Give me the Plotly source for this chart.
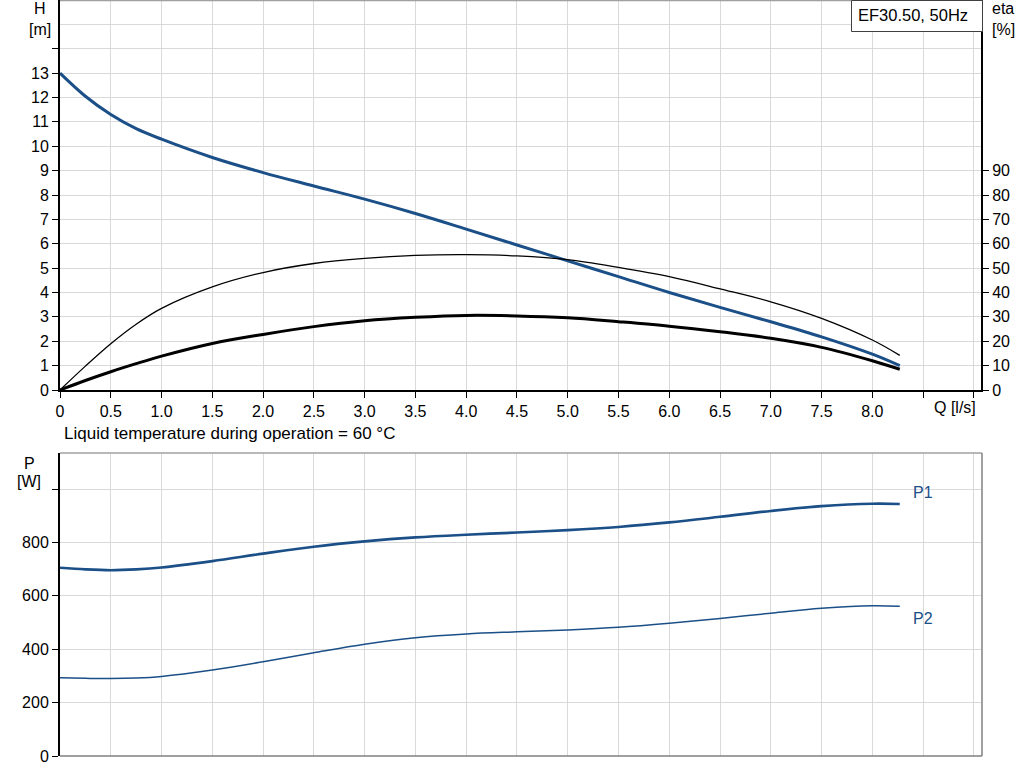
import plotly.graph_objects as go

# ---- data ----
q = [0, 0.25, 0.5, 0.75, 1.0, 1.5, 2.0, 2.5, 3.0, 3.5, 4.0, 4.5, 5.0, 5.5, 6.0, 6.5, 7.0, 7.5, 8.0, 8.27]
head = [13.0, 12.05, 11.3, 10.72, 10.29, 9.54, 8.92, 8.37, 7.83, 7.24, 6.6, 5.95, 5.3, 4.65, 4.0, 3.39, 2.8, 2.18, 1.47, 1.0]
eta_pump = [0, 9.8, 19, 27, 33.5, 42.3, 48.2, 51.9, 54, 55.2, 55.5, 55, 53.5, 50.3, 46.5, 41.5, 36.2, 29.4, 20.5, 14.2]
eta_total = [0, 3.9, 7.5, 10.8, 13.9, 19.1, 22.8, 26, 28.4, 29.8, 30.6, 30.4, 29.6, 28, 26.2, 23.9, 21.2, 17.5, 12, 8.5]
p1 = [705, 699, 696, 699, 706, 730, 758, 784, 804, 819, 829, 837, 846, 858, 875, 896, 918, 936, 945, 944]
p2 = [293, 291, 290, 292, 298, 322, 353, 387, 419, 443, 457, 465, 472, 482, 497, 515, 535, 553, 563, 561]

x_ticks = [0, 0.5, 1.0, 1.5, 2.0, 2.5, 3.0, 3.5, 4.0, 4.5, 5.0, 5.5, 6.0, 6.5, 7.0, 7.5, 8.0, 8.5, 9.0]
x_labels = ["0", "0.5", "1.0", "1.5", "2.0", "2.5", "3.0", "3.5", "4.0", "4.5", "5.0", "5.5", "6.0", "6.5", "7.0", "7.5", "8.0", "", ""]
h_ticks = list(range(0, 15))
h_labels = [str(v) for v in range(0, 14)] + [""]
eta_ticks = list(range(0, 100, 10))
p_ticks = [0, 200, 400, 600, 800, 1000]
p_labels = ["0", "200", "400", "600", "800", ""]

BLUE = "#1b4f88"
GRID = "#d9d9d9"
FONT = "Liberation Sans, Arial, sans-serif"
FS = 16

W, H = 1024, 781
ML, MR, MT, MB = 60, 43, 0, 25
PW, PH = W - ML - MR, H - MT - MB


def px(x):
    return (x - ML) / PW


def py(y):
    return (H - MB - y) / PH


fig = go.Figure()
fig.add_trace(go.Scatter(x=q, y=head, mode="lines", line=dict(color=BLUE, width=3, shape="spline"),
                         xaxis="x", yaxis="y", showlegend=False))
fig.add_trace(go.Scatter(x=q, y=eta_pump, mode="lines", line=dict(color="black", width=1.3, shape="spline"),
                         xaxis="x", yaxis="y2", showlegend=False))
fig.add_trace(go.Scatter(x=q, y=eta_total, mode="lines", line=dict(color="black", width=3, shape="spline"),
                         xaxis="x", yaxis="y2", showlegend=False))
fig.add_trace(go.Scatter(x=q, y=p1, mode="lines", line=dict(color=BLUE, width=2.6, shape="spline"),
                         xaxis="x2", yaxis="y3", showlegend=False))
fig.add_trace(go.Scatter(x=q, y=p2, mode="lines", line=dict(color=BLUE, width=1.5, shape="spline"),
                         xaxis="x2", yaxis="y3", showlegend=False))

top_dom = [py(390), 1.0]
bot_dom = [0.0, py(453)]
xr = [0, 9.07]

axfont = dict(family=FONT, size=FS, color="black")

fig.update_layout(
    width=W, height=H,
    margin=dict(l=ML, r=MR, t=MT, b=MB),
    paper_bgcolor="white", plot_bgcolor="white",
    font=axfont,
    xaxis=dict(domain=[0, 1], range=xr, anchor="y", tickvals=x_ticks, ticktext=x_labels,
               ticks="outside", ticklen=6, tickcolor="black", showgrid=True, gridcolor=GRID,
               showline=True, linecolor="black", linewidth=2, zeroline=False, tickfont=axfont),
    yaxis=dict(domain=top_dom, range=[0, 16], anchor="x", tickvals=h_ticks, ticktext=h_labels,
               ticks="outside", ticklen=6, tickcolor="black", showgrid=True, gridcolor=GRID,
               showline=True, linecolor="black", linewidth=2, zeroline=False, tickfont=axfont,
               minor=dict(dtick=1, showgrid=True, gridcolor=GRID, ticks="")),
    yaxis2=dict(overlaying="y", side="right", anchor="x", range=[0, 160], tickvals=eta_ticks,
                ticks="outside", ticklen=6, tickcolor="black", showgrid=False,
                showline=True, linecolor="black", linewidth=2, zeroline=False, tickfont=axfont),
    xaxis2=dict(domain=[0, 1], range=xr, anchor="y3", tickvals=x_ticks, showticklabels=False,
                ticks="", showgrid=True, gridcolor=GRID, showline=False, zeroline=False),
    yaxis3=dict(domain=bot_dom, range=[0, 1135], anchor="x2", tickvals=p_ticks, ticktext=p_labels,
                ticks="outside", ticklen=6, tickcolor="black", showgrid=True, gridcolor=GRID,
                showline=True, linecolor="black", linewidth=2, zeroline=False, tickfont=axfont),
)

shapes = [
    dict(type="line", xref="paper", yref="paper", x0=0, x1=1, y0=py(0.5), y1=py(0.5),
         line=dict(color="#a0a0a0", width=1.5)),
    dict(type="line", xref="paper", yref="paper", x0=0, x1=px(982), y0=py(453), y1=py(453),
         line=dict(color="#a0a0a0", width=1.5)),
    dict(type="line", xref="paper", yref="paper", x0=px(982), x1=px(982), y0=py(453), y1=0,
         line=dict(color="#808080", width=1.5)),
    dict(type="line", xref="paper", yref="paper", x0=0, x1=px(982), y0=0, y1=0,
         line=dict(color="#808080", width=1.5)),
    # legend box
    dict(type="rect", xref="paper", yref="paper", x0=px(851.5), x1=px(982.5), y0=py(31.5), y1=py(0.5),
         line=dict(color="#404040", width=1), fillcolor="white", layer="above"),
]
fig.update_layout(shapes=shapes)

ann = [
    dict(text="H", x=px(40), y=py(9)),
    dict(text="[m]", x=px(40), y=py(29)),
    dict(text="eta", x=px(1003), y=py(9)),
    dict(text="[%]", x=px(1003), y=py(29)),
    dict(text="Q [l/s]", x=px(955), y=py(407)),
    dict(text="P", x=px(29), y=py(463)),
    dict(text="[W]", x=px(29), y=py(481)),
]
for a in ann:
    fig.add_annotation(xref="paper", yref="paper", xanchor="center", yanchor="middle",
                       showarrow=False, font=axfont, **a)

fig.add_annotation(xref="paper", yref="paper", x=px(62), y=py(433), xanchor="left", yanchor="middle",
                   text="Liquid temperature during operation = 60 °C", showarrow=False,
                   font=dict(family=FONT, size=17, color="black"))
fig.add_annotation(xref="paper", yref="paper", x=px(911), y=py(492), xanchor="left", yanchor="middle",
                   text="P1", showarrow=False, font=dict(family=FONT, size=FS, color=BLUE))
fig.add_annotation(xref="paper", yref="paper", x=px(911), y=py(618), xanchor="left", yanchor="middle",
                   text="P2", showarrow=False, font=dict(family=FONT, size=FS, color=BLUE))
fig.add_annotation(xref="paper", yref="paper", x=px(856), y=py(15), xanchor="left", yanchor="middle",
                   text="EF30.50, 50Hz", showarrow=False,
                   font=dict(family=FONT, size=16.5, color="black"))

fig.write_html("out.html", post_script="document.body.style.margin='0';",
               config={"displayModeBar": False})
